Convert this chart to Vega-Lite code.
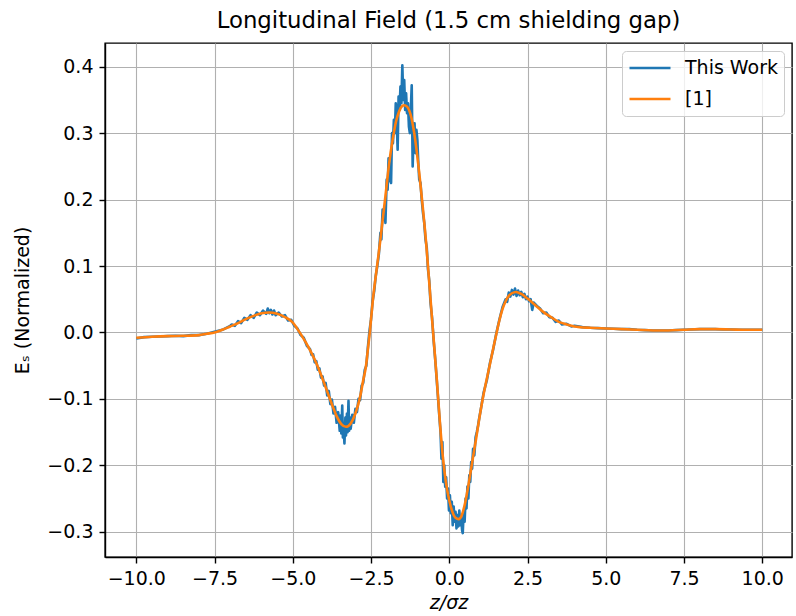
{
  "$schema": "https://vega.github.io/schema/vega-lite/v6.json",
  "width": 687,
  "height": 514,
  "autosize": {"type": "none"},
  "padding": {"left": 105, "top": 43, "right": 4, "bottom": 59},
  "background": "white",
  "title": {"text": "Longitudinal Field (1.5 cm shielding gap)", "fontSize": 22.8, "font": "DejaVu Sans", "fontWeight": "normal", "color": "black", "anchor": "middle", "offset": 10},
  "config": {
    "view": {"stroke": "black", "strokeWidth": 1.4},
    "axis": {
      "domainColor": "black", "domainWidth": 1.4,
      "tickColor": "black", "tickWidth": 1.4, "tickSize": 6,
      "gridColor": "#b0b0b0", "gridWidth": 1.1,
      "labelFont": "DejaVu Sans", "labelFontSize": 19, "labelColor": "black", "labelPadding": 6,
      "titleFont": "DejaVu Sans", "titleFontSize": 19, "titleFontWeight": "normal", "titleColor": "black"
    },
    "legend": {
      "orient": "top-right", "offset": 8, "padding": 6,
      "symbolType": "stroke", "symbolSize": 1681, "symbolStrokeWidth": 2.6,
      "labelFont": "DejaVu Sans", "labelFontSize": 19, "labelColor": "black", "labelOffset": 13,
      "fillColor": "rgba(255,255,255,0.8)", "strokeColor": "#cccccc", "cornerRadius": 4, "rowPadding": 9, "clipHeight": 22
    }
  },
  "datasets": {
    "blue": [
      {"z": -10, "e": -0.009}, {"z": -9.75, "e": -0.007}, {"z": -9.5, "e": -0.0065}, {"z": -9.25, "e": -0.006}, {"z": -9.0, "e": -0.0055},
      {"z": -8.75, "e": -0.005}, {"z": -8.5, "e": -0.0055}, {"z": -8.25, "e": -0.004}, {"z": -8.0, "e": -0.004}, {"z": -7.75, "e": -0.002},
      {"z": -7.5, "e": 0.001}, {"z": -7.25, "e": 0.004}, {"z": -7.0, "e": 0.010},
      {"z": -6.95, "e": 0.012}, {"z": -6.85, "e": 0.010}, {"z": -6.75, "e": 0.017}, {"z": -6.65, "e": 0.014}, {"z": -6.55, "e": 0.022},
      {"z": -6.45, "e": 0.019}, {"z": -6.35, "e": 0.026}, {"z": -6.25, "e": 0.022}, {"z": -6.15, "e": 0.030}, {"z": -6.05, "e": 0.026},
      {"z": -5.95, "e": 0.033}, {"z": -5.85, "e": 0.028}, {"z": -5.8, "e": 0.036}, {"z": -5.75, "e": 0.029}, {"z": -5.7, "e": 0.034},
      {"z": -5.65, "e": 0.027}, {"z": -5.6, "e": 0.033}, {"z": -5.55, "e": 0.026}, {"z": -5.45, "e": 0.030}, {"z": -5.35, "e": 0.024},
      {"z": -5.25, "e": 0.026}, {"z": -5.15, "e": 0.018}, {"z": -5.05, "e": 0.019}, {"z": -4.95, "e": 0.010}, {"z": -4.85, "e": 0.006},
      {"z": -4.75, "e": -0.004}, {"z": -4.65, "e": -0.008}, {"z": -4.55, "e": -0.020},
      {"z": -4.45, "e": -0.025}, {"z": -4.4, "e": -0.034}, {"z": -4.35, "e": -0.033}, {"z": -4.3, "e": -0.045}, {"z": -4.25, "e": -0.043},
      {"z": -4.2, "e": -0.056}, {"z": -4.15, "e": -0.054}, {"z": -4.1, "e": -0.068}, {"z": -4.05, "e": -0.066}, {"z": -4.0, "e": -0.080},
      {"z": -3.95, "e": -0.076}, {"z": -3.9, "e": -0.095}, {"z": -3.85, "e": -0.088}, {"z": -3.8, "e": -0.108}, {"z": -3.75, "e": -0.101},
      {"z": -3.7, "e": -0.122}, {"z": -3.65, "e": -0.112}, {"z": -3.6, "e": -0.136}, {"z": -3.55, "e": -0.120}, {"z": -3.5, "e": -0.148},
      {"z": -3.47, "e": -0.125}, {"z": -3.45, "e": -0.152}, {"z": -3.42, "e": -0.110}, {"z": -3.4, "e": -0.158}, {"z": -3.38, "e": -0.140},
      {"z": -3.35, "e": -0.167}, {"z": -3.32, "e": -0.128}, {"z": -3.3, "e": -0.155}, {"z": -3.27, "e": -0.122}, {"z": -3.25, "e": -0.150},
      {"z": -3.22, "e": -0.103}, {"z": -3.2, "e": -0.148}, {"z": -3.17, "e": -0.128}, {"z": -3.15, "e": -0.145}, {"z": -3.1, "e": -0.124},
      {"z": -3.05, "e": -0.136}, {"z": -3.0, "e": -0.115}, {"z": -2.95, "e": -0.120}, {"z": -2.9, "e": -0.100}, {"z": -2.85, "e": -0.102},
      {"z": -2.8, "e": -0.080}, {"z": -2.75, "e": -0.076}, {"z": -2.7, "e": -0.056}, {"z": -2.65, "e": -0.050}, {"z": -2.6, "e": -0.022},
      {"z": -2.55, "e": 0.002}, {"z": -2.5, "e": 0.020}, {"z": -2.45, "e": 0.047}, {"z": -2.4, "e": 0.062}, {"z": -2.35, "e": 0.085},
      {"z": -2.3, "e": 0.100}, {"z": -2.25, "e": 0.118}, {"z": -2.2, "e": 0.150}, {"z": -2.17, "e": 0.140}, {"z": -2.13, "e": 0.185},
      {"z": -2.1, "e": 0.170}, {"z": -2.07, "e": 0.184}, {"z": -2.04, "e": 0.165}, {"z": -2.0, "e": 0.230}, {"z": -1.97, "e": 0.215},
      {"z": -1.94, "e": 0.262}, {"z": -1.9, "e": 0.230}, {"z": -1.86, "e": 0.225}, {"z": -1.83, "e": 0.300}, {"z": -1.8, "e": 0.285},
      {"z": -1.77, "e": 0.320}, {"z": -1.74, "e": 0.300}, {"z": -1.71, "e": 0.345}, {"z": -1.68, "e": 0.320}, {"z": -1.65, "e": 0.275},
      {"z": -1.62, "e": 0.355}, {"z": -1.59, "e": 0.335}, {"z": -1.56, "e": 0.370}, {"z": -1.53, "e": 0.345}, {"z": -1.5, "e": 0.402},
      {"z": -1.47, "e": 0.350}, {"z": -1.44, "e": 0.380}, {"z": -1.41, "e": 0.335}, {"z": -1.38, "e": 0.360}, {"z": -1.35, "e": 0.330},
      {"z": -1.32, "e": 0.345}, {"z": -1.29, "e": 0.310}, {"z": -1.26, "e": 0.300}, {"z": -1.23, "e": 0.335}, {"z": -1.2, "e": 0.372},
      {"z": -1.17, "e": 0.250}, {"z": -1.14, "e": 0.300}, {"z": -1.11, "e": 0.315}, {"z": -1.08, "e": 0.270}, {"z": -1.05, "e": 0.305},
      {"z": -1.02, "e": 0.290}, {"z": -0.99, "e": 0.255}, {"z": -0.96, "e": 0.230}, {"z": -0.92, "e": 0.225}, {"z": -0.88, "e": 0.200},
      {"z": -0.84, "e": 0.180}, {"z": -0.8, "e": 0.165}, {"z": -0.76, "e": 0.140}, {"z": -0.72, "e": 0.128}, {"z": -0.68, "e": 0.095},
      {"z": -0.64, "e": 0.078}, {"z": -0.6, "e": 0.045}, {"z": -0.55, "e": 0.022}, {"z": -0.5, "e": -0.012},
      {"z": -0.45, "e": -0.040}, {"z": -0.4, "e": -0.072}, {"z": -0.36, "e": -0.098}, {"z": -0.32, "e": -0.125}, {"z": -0.28, "e": -0.150},
      {"z": -0.25, "e": -0.190}, {"z": -0.22, "e": -0.165}, {"z": -0.19, "e": -0.225}, {"z": -0.16, "e": -0.200}, {"z": -0.13, "e": -0.232},
      {"z": -0.1, "e": -0.218}, {"z": -0.07, "e": -0.250}, {"z": -0.04, "e": -0.235}, {"z": -0.01, "e": -0.268}, {"z": 0.02, "e": -0.245},
      {"z": 0.05, "e": -0.272}, {"z": 0.08, "e": -0.255}, {"z": 0.11, "e": -0.290}, {"z": 0.14, "e": -0.262}, {"z": 0.17, "e": -0.285},
      {"z": 0.2, "e": -0.270}, {"z": 0.23, "e": -0.295}, {"z": 0.26, "e": -0.275}, {"z": 0.29, "e": -0.292}, {"z": 0.32, "e": -0.268},
      {"z": 0.35, "e": -0.290}, {"z": 0.38, "e": -0.280}, {"z": 0.41, "e": -0.298}, {"z": 0.43, "e": -0.302}, {"z": 0.46, "e": -0.270},
      {"z": 0.49, "e": -0.285}, {"z": 0.52, "e": -0.250}, {"z": 0.55, "e": -0.265}, {"z": 0.58, "e": -0.232}, {"z": 0.61, "e": -0.250},
      {"z": 0.64, "e": -0.215}, {"z": 0.67, "e": -0.225}, {"z": 0.7, "e": -0.195}, {"z": 0.73, "e": -0.205}, {"z": 0.76, "e": -0.175},
      {"z": 0.8, "e": -0.185}, {"z": 0.84, "e": -0.158}, {"z": 0.88, "e": -0.150}, {"z": 0.92, "e": -0.140}, {"z": 0.96, "e": -0.128},
      {"z": 1.0, "e": -0.118}, {"z": 1.05, "e": -0.104},
      {"z": 1.1, "e": -0.090}, {"z": 1.2, "e": -0.072}, {"z": 1.3, "e": -0.046}, {"z": 1.4, "e": -0.026}, {"z": 1.5, "e": -0.002},
      {"z": 1.6, "e": 0.019}, {"z": 1.7, "e": 0.038}, {"z": 1.75, "e": 0.044}, {"z": 1.8, "e": 0.050}, {"z": 1.85, "e": 0.046},
      {"z": 1.9, "e": 0.060}, {"z": 1.95, "e": 0.054}, {"z": 2.0, "e": 0.064}, {"z": 2.05, "e": 0.057}, {"z": 2.1, "e": 0.066},
      {"z": 2.15, "e": 0.055}, {"z": 2.2, "e": 0.063}, {"z": 2.25, "e": 0.056}, {"z": 2.3, "e": 0.061}, {"z": 2.35, "e": 0.053},
      {"z": 2.4, "e": 0.058}, {"z": 2.45, "e": 0.050}, {"z": 2.5, "e": 0.054}, {"z": 2.55, "e": 0.047}, {"z": 2.6, "e": 0.050},
      {"z": 2.65, "e": 0.034}, {"z": 2.7, "e": 0.045}, {"z": 2.8, "e": 0.040}, {"z": 2.9, "e": 0.036}, {"z": 3.0, "e": 0.029},
      {"z": 3.1, "e": 0.030}, {"z": 3.2, "e": 0.023}, {"z": 3.3, "e": 0.022}, {"z": 3.4, "e": 0.016}, {"z": 3.5, "e": 0.018},
      {"z": 3.6, "e": 0.012}, {"z": 3.75, "e": 0.013}, {"z": 3.9, "e": 0.009}, {"z": 4.0, "e": 0.010},
      {"z": 4.25, "e": 0.008}, {"z": 4.5, "e": 0.007}, {"z": 4.75, "e": 0.0065}, {"z": 5.0, "e": 0.006}, {"z": 5.25, "e": 0.0055},
      {"z": 5.5, "e": 0.005}, {"z": 5.75, "e": 0.005}, {"z": 6.0, "e": 0.004}, {"z": 6.25, "e": 0.0035}, {"z": 6.5, "e": 0.003},
      {"z": 6.75, "e": 0.003}, {"z": 7.0, "e": 0.003}, {"z": 7.25, "e": 0.0035}, {"z": 7.5, "e": 0.004}, {"z": 7.75, "e": 0.0045},
      {"z": 8.0, "e": 0.005}, {"z": 8.25, "e": 0.005}, {"z": 8.5, "e": 0.005}, {"z": 8.75, "e": 0.0045}, {"z": 9.0, "e": 0.0045},
      {"z": 9.25, "e": 0.004}, {"z": 9.5, "e": 0.004}, {"z": 9.75, "e": 0.004}, {"z": 10.0, "e": 0.004}
    ],
    "orange": [
      {"z": -10, "e": -0.008}, {"z": -9.5, "e": -0.0065}, {"z": -9, "e": -0.0055}, {"z": -8.5, "e": -0.005}, {"z": -8, "e": -0.004},
      {"z": -7.75, "e": -0.002}, {"z": -7.5, "e": 0.0}, {"z": -7.25, "e": 0.004}, {"z": -7, "e": 0.009}, {"z": -6.75, "e": 0.014},
      {"z": -6.5, "e": 0.020}, {"z": -6.25, "e": 0.025}, {"z": -6, "e": 0.029}, {"z": -5.75, "e": 0.030}, {"z": -5.5, "e": 0.028},
      {"z": -5.25, "e": 0.023}, {"z": -5, "e": 0.015}, {"z": -4.85, "e": 0.005}, {"z": -4.7, "e": -0.006}, {"z": -4.5, "e": -0.022},
      {"z": -4.25, "e": -0.046}, {"z": -4, "e": -0.076}, {"z": -3.75, "e": -0.108}, {"z": -3.6, "e": -0.126}, {"z": -3.45, "e": -0.138},
      {"z": -3.3, "e": -0.142}, {"z": -3.15, "e": -0.137}, {"z": -3, "e": -0.122}, {"z": -2.85, "e": -0.097}, {"z": -2.75, "e": -0.072},
      {"z": -2.66, "e": -0.05}, {"z": -2.6, "e": -0.025}, {"z": -2.54, "e": 0.0}, {"z": -2.45, "e": 0.045}, {"z": -2.31, "e": 0.099},
      {"z": -2.2, "e": 0.14}, {"z": -2.13, "e": 0.169}, {"z": -2.04, "e": 0.205}, {"z": -1.92, "e": 0.255}, {"z": -1.81, "e": 0.29},
      {"z": -1.7, "e": 0.318}, {"z": -1.6, "e": 0.333}, {"z": -1.5, "e": 0.341}, {"z": -1.44, "e": 0.342}, {"z": -1.35, "e": 0.34},
      {"z": -1.22, "e": 0.325}, {"z": -1.12, "e": 0.30}, {"z": -0.96, "e": 0.24}, {"z": -0.85, "e": 0.19}, {"z": -0.74, "e": 0.135},
      {"z": -0.64, "e": 0.075}, {"z": -0.55, "e": 0.02}, {"z": -0.5, "e": -0.01}, {"z": -0.4, "e": -0.07}, {"z": -0.3, "e": -0.135},
      {"z": -0.2, "e": -0.19}, {"z": -0.1, "e": -0.228}, {"z": 0, "e": -0.253}, {"z": 0.1, "e": -0.27}, {"z": 0.2, "e": -0.279},
      {"z": 0.3, "e": -0.281}, {"z": 0.4, "e": -0.275}, {"z": 0.5, "e": -0.258}, {"z": 0.64, "e": -0.222}, {"z": 0.75, "e": -0.19},
      {"z": 0.85, "e": -0.162}, {"z": 0.95, "e": -0.132}, {"z": 1.06, "e": -0.102}, {"z": 1.17, "e": -0.076}, {"z": 1.28, "e": -0.052},
      {"z": 1.4, "e": -0.025}, {"z": 1.5, "e": -0.003}, {"z": 1.6, "e": 0.018}, {"z": 1.7, "e": 0.035}, {"z": 1.8, "e": 0.047},
      {"z": 1.9, "e": 0.055}, {"z": 2, "e": 0.059}, {"z": 2.13, "e": 0.061}, {"z": 2.3, "e": 0.058}, {"z": 2.5, "e": 0.051},
      {"z": 2.75, "e": 0.041}, {"z": 3, "e": 0.031}, {"z": 3.25, "e": 0.023}, {"z": 3.5, "e": 0.016}, {"z": 3.75, "e": 0.012},
      {"z": 4, "e": 0.009}, {"z": 4.5, "e": 0.007}, {"z": 5, "e": 0.006}, {"z": 5.5, "e": 0.005}, {"z": 6, "e": 0.004},
      {"z": 6.5, "e": 0.003}, {"z": 7, "e": 0.003}, {"z": 7.5, "e": 0.004}, {"z": 8, "e": 0.005}, {"z": 8.5, "e": 0.005},
      {"z": 9, "e": 0.0045}, {"z": 9.5, "e": 0.004}, {"z": 10, "e": 0.004}
    ]
  },
  "encoding": {
    "x": {
      "field": "z", "type": "quantitative",
      "scale": {"domain": [-11, 10.95], "nice": false, "zero": false},
      "axis": {"values": [-10, -7.5, -5, -2.5, 0, 2.5, 5, 7.5, 10], "format": ".1f", "title": "z/σz", "titleFontStyle": "italic", "titlePadding": 5}
    },
    "y": {
      "field": "e", "type": "quantitative",
      "scale": {"domain": [-0.338, 0.4357], "nice": false, "zero": false},
      "axis": {"values": [-0.3, -0.2, -0.1, 0, 0.1, 0.2, 0.3, 0.4], "format": ".1f", "title": "Eₛ (Normalized)", "titlePadding": 14}
    }
  },
  "layer": [
    {
      "data": {"name": "blue"},
      "mark": {"type": "line", "strokeWidth": 2.6, "strokeJoin": "round"},
      "encoding": {
        "color": {"datum": "This Work", "type": "nominal", "scale": {"domain": ["This Work", "[1]"], "range": ["#1f77b4", "#ff7f0e"]}, "legend": {"title": null}}
      }
    },
    {
      "data": {"name": "orange"},
      "mark": {"type": "line", "strokeWidth": 2.6, "interpolate": "monotone"},
      "encoding": {
        "color": {"datum": "[1]", "type": "nominal"}
      }
    }
  ]
}
